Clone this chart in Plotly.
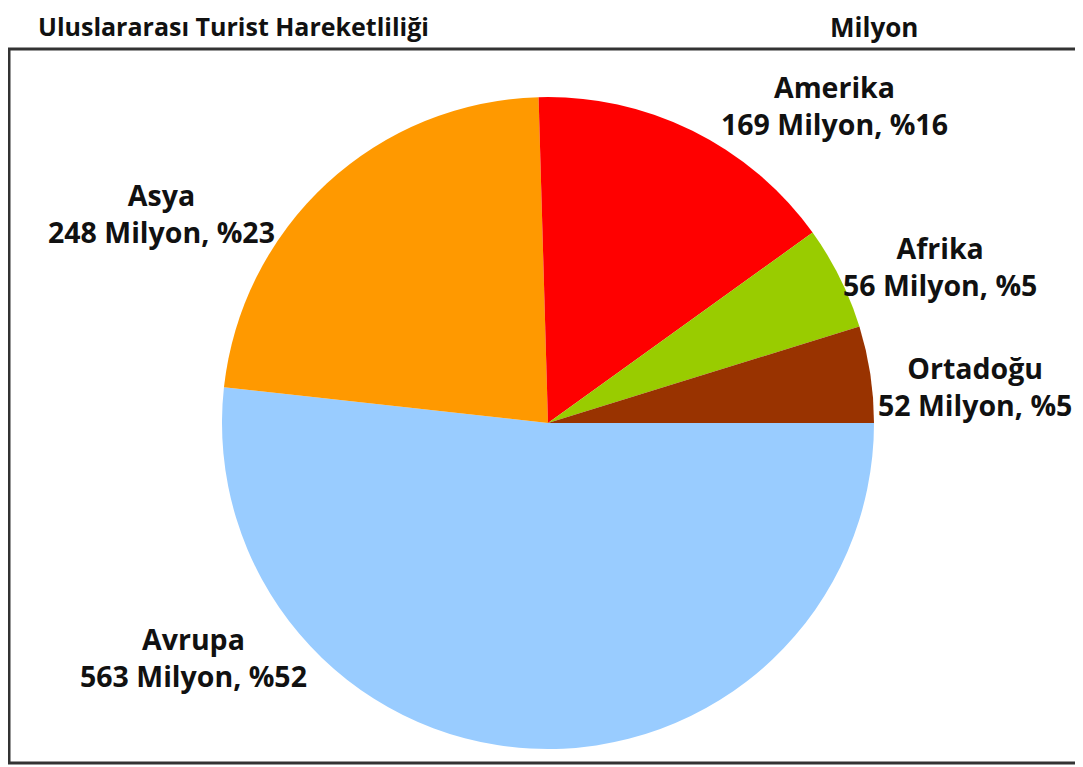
import plotly.graph_objects as go

# clockwise from 3 o'clock
regions = ["Avrupa", "Asya", "Amerika", "Afrika", "Ortadoğu"]
tourists_mn = [563, 248, 169, 56, 52]
colors = ["#99CCFF", "#FF9900", "#FF0000", "#99CC00", "#993300"]

# page body has an 8px margin, so figure pixel = screen pixel - 8
OFF = 8
W, H = 1083 - OFF, 767 - OFF
total = sum(tourists_mn)
pcts = [round(v / total * 100) for v in tourists_mn]

# label block centres in screen pixels
label_pos = {
    "Amerika": (834, 105),
    "Afrika": (940, 266),
    "Ortadoğu": (975, 386),
    "Asya": (161, 213),
    "Avrupa": (193, 657),
}


def px(x, y):
    return (x - OFF) / W, 1 - (y - OFF) / H


cx, cy, r = 548 - OFF, 423 - OFF, 326
fig = go.Figure(go.Pie(
    labels=regions, values=tourists_mn, sort=False,
    direction="clockwise", rotation=90,
    marker=dict(colors=colors, line=dict(width=0)),
    textinfo="none", hoverinfo="label+value+percent",
    domain=dict(x=[(cx - r) / W, (cx + r) / W], y=[(H - cy - r) / H, (H - cy + r) / H]),
    showlegend=False,
))

font = dict(family="Open Sans", size=28.5, color="#111111")
for name, v, p in zip(regions, tourists_mn, pcts):
    x, y = px(*label_pos[name])
    fig.add_annotation(
        x=x, y=y, xref="paper", yref="paper",
        text=f"<b>{name}<br>{v} Milyon, %{p}</b>", showarrow=False,
        font=font, align="center", xanchor="center", yanchor="middle",
    )

tfont = dict(family="Open Sans", size=25, color="#111111")
x, _ = px(37, 0)
fig.add_annotation(x=x, y=1, xref="paper", yref="paper",
                   text="<b>Uluslararası Turist Hareketliliği</b>", showarrow=False,
                   font=tfont, xanchor="left", yanchor="top", borderpad=0)
x, _ = px(874, 0)
fig.add_annotation(x=x, y=1, xref="paper", yref="paper",
                   text="<b>Milyon</b>", showarrow=False,
                   font=dict(family="Open Sans", size=26, color="#111111"),
                   xanchor="center", yanchor="top", borderpad=0)

x0, y1 = px(9, 49)
x1, y0 = px(1090, 763)
fig.add_shape(type="rect", xref="paper", yref="paper",
              x0=x0, x1=x1, y0=y0, y1=y1,
              line=dict(color="#333333", width=3), fillcolor="rgba(0,0,0,0)", layer="above")

fig.update_layout(width=W, height=H, margin=dict(l=0, r=0, t=0, b=0),
                  paper_bgcolor="white", plot_bgcolor="white")
fig.write_html("out.html")
